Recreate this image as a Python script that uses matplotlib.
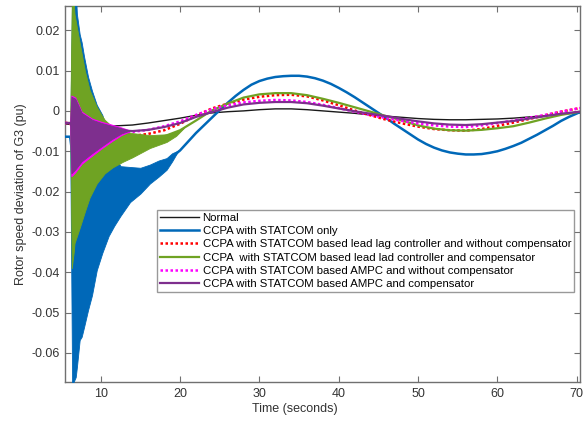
import matplotlib
matplotlib.use("Agg")
import matplotlib.pyplot as plt
import numpy as np

plt.rcParams['font.family'] = ['Liberation Sans', 'DejaVu Sans']

# ---------------- data ----------------
t_slow = [5.5, 6.15, 7, 8, 9, 10, 11, 12, 13,
          14, 16, 18, 20, 22, 24, 26, 28, 30, 32, 34, 36, 38, 40, 42, 44,
          46, 48, 50, 52, 54, 56, 58, 60, 62, 64, 66, 68, 70.4]

normal = [-0.0033, -0.0033, -0.0034, -0.0036, -0.0037, -0.0038, -0.0038, -0.0037, -0.0036,
          -0.0035, -0.0030, -0.0024, -0.0018, -0.0011, -0.0005, -0.0002, 0.0000, 0.0003,
          0.0005, 0.0005, 0.0003, 0.0000, -0.0003, -0.0006, -0.0010, -0.0013, -0.0016,
          -0.0019, -0.0021, -0.0022, -0.0022, -0.0021, -0.0020, -0.0018, -0.0015, -0.0012,
          -0.0008, -0.0005]

t_blue = [5.5, 6.15, 7, 8, 9, 10, 11, 12, 13,
          14, 16, 18, 20, 22, 24, 25, 26, 27, 28, 29, 30, 31, 32, 33, 34, 35, 36, 37, 38,
          39, 40, 41, 42, 43, 44, 45, 46, 47, 48, 49, 50, 51, 52, 53, 54, 55, 56, 57, 58,
          59, 60, 61, 62, 63, 64, 65, 66, 67, 68, 69, 70.4]
statcom_only = [-0.0064, -0.0064, -0.020, -0.022, -0.022, -0.022, -0.021, -0.020, -0.019,
                -0.0180, -0.0155, -0.0130, -0.0098, -0.0055, -0.0017, 0.0002, 0.0020, 0.0037,
                0.0052, 0.0065, 0.0074, 0.0080, 0.0084, 0.0086, 0.0087, 0.0087, 0.0085,
                0.0081, 0.0075, 0.0067, 0.0057, 0.0046, 0.0034, 0.0021, 0.0008, -0.0005,
                -0.0018, -0.0032, -0.0045, -0.0058, -0.0071, -0.0082, -0.0091, -0.0098,
                -0.0103, -0.0106, -0.0108, -0.0108, -0.0107, -0.0104, -0.0100, -0.0094,
                -0.0087, -0.0079, -0.0069, -0.0059, -0.0048, -0.0037, -0.0025, -0.0015,
                -0.0003]

leadlag_nocomp = [-0.0030, -0.0030, -0.0070, -0.0075, -0.0075, -0.0070, -0.0068, -0.0066, -0.0064,
                  -0.0062, -0.0057, -0.0048, -0.0032, -0.0012, 0.0006, 0.0018, 0.0028, 0.0035,
                  0.0039, 0.0040, 0.0036, 0.0026, 0.0014, 0.0001, -0.0011, -0.0022, -0.0031,
                  -0.0039, -0.0045, -0.0048, -0.0049, -0.0045, -0.0037, -0.0029, -0.0020,
                  -0.0011, -0.0002, 0.0007]

leadlag_comp = [-0.0030, -0.0030, -0.0060, -0.0075, -0.0085, -0.0090, -0.0090, -0.0088, -0.0085,
                -0.0080, -0.0073, -0.0063, -0.0048, -0.0024, 0.0001, 0.0018, 0.0033, 0.0041,
                0.0044, 0.0044, 0.0039, 0.0030, 0.0020, 0.0009, -0.0002, -0.0013, -0.0024,
                -0.0036, -0.0044, -0.0048, -0.0049, -0.0047, -0.0043, -0.0038, -0.0029,
                -0.0019, -0.0010, -0.0002]

ampc_nocomp = [-0.0030, -0.0030, -0.0060, -0.0062, -0.0063, -0.0060, -0.0057, -0.0054, -0.0052,
               -0.0052, -0.0047, -0.0038, -0.0026, -0.0010, 0.0004, 0.0014, 0.0021, 0.0025,
               0.0027, 0.0026, 0.0022, 0.0015, 0.0007, -0.0002, -0.0010, -0.0018, -0.0025,
               -0.0031, -0.0036, -0.0039, -0.0040, -0.0036, -0.0030, -0.0024, -0.0017,
               -0.0010, -0.0002, 0.0007]

ampc_comp = [-0.0030, -0.0030, -0.0060, -0.0062, -0.0063, -0.0060, -0.0055, -0.0050, -0.0049,
             -0.0050, -0.0047, -0.0040, -0.0030, -0.0015, -0.0003, 0.0008, 0.0016, 0.0020,
             0.0022, 0.0022, 0.0019, 0.0013, 0.0006, -0.0001, -0.0007, -0.0013, -0.0020,
             -0.0026, -0.0031, -0.0034, -0.0035, -0.0033, -0.0029, -0.0025, -0.0019,
             -0.0013, -0.0007, -0.0002]

# envelopes of the fast post-fault oscillations
t_blue_band = [6.15, 6.4, 6.85, 7.0, 7.35, 7.6, 7.9, 8.4, 8.9, 9.5, 10.2, 11.0, 11.7,
               12.5, 13.7, 15.0, 16.2, 17.3, 18.3, 19.0, 19.8]
blue_upper = [-0.0064, 0.030, 0.030, 0.024, 0.019, 0.017, 0.0135, 0.0085, 0.005, 0.0015,
              -0.001, -0.006, -0.011, -0.0137, -0.0139, -0.0141, -0.0133, -0.0123, -0.0117,
              -0.0105, -0.0098]
blue_lower = [-0.0064, -0.068, -0.066, -0.0635, -0.0568, -0.056, -0.0536, -0.0494, -0.0457,
              -0.0395, -0.0352, -0.031, -0.0285, -0.026, -0.0226, -0.0205, -0.018, -0.0163,
              -0.0146, -0.0125, -0.0098]

t_green_band = [6.15, 6.35, 6.6, 6.7, 7.35, 8.0, 8.6, 9.5, 10.1, 10.5, 11.5, 12.8, 14.0,
                16.2, 18.3, 19.5, 20.5]
green_upper = [-0.003, 0.026, 0.027, 0.024, 0.0169, 0.010, 0.0052, 0.001, -0.001, -0.0022,
               -0.004, -0.005, -0.0055, -0.006, -0.0058, -0.0052, -0.0042]
green_lower = [-0.003, -0.039, -0.035, -0.0328, -0.029, -0.025, -0.0215, -0.018, -0.0165,
               -0.0155, -0.014, -0.0126, -0.0115, -0.0092, -0.0077, -0.0062, -0.0042]

t_ampc_band = [6.15, 6.3, 6.8, 7.6, 8.9, 10.1, 11.4, 12.6, 13.5]
magenta_upper = [-0.003, 0.0038, 0.0033, -0.0002, -0.0019, -0.0027, -0.0034, -0.0041, -0.0047]
magenta_lower = [-0.003, -0.0162, -0.0152, -0.0131, -0.0111, -0.0093, -0.0075, -0.0060, -0.0052]
purple_upper = [-0.003, 0.0035, 0.003, -0.0005, -0.0022, -0.003, -0.0037, -0.0043, -0.0048]
purple_lower = [-0.003, -0.0155, -0.0145, -0.0125, -0.0105, -0.0088, -0.0070, -0.0056, -0.0050]

labels = ["Normal",
          "CCPA with STATCOM only",
          "CCPA with STATCOM based lead lag controller and without compensator",
          "CCPA  with STATCOM based lead lad controller and compensator",
          "CCPA with STATCOM based AMPC and without compensator",
          "CCPA with STATCOM based AMPC and compensator"]

x_ticks = [10, 20, 30, 40, 50, 60, 70]
y_ticks = [-0.06, -0.05, -0.04, -0.03, -0.02, -0.01, 0, 0.01, 0.02]
y_ticklabels = ["-0.06", "-0.05", "-0.04", "-0.03", "-0.02", "-0.01", "0", "0.01", "0.02"]

# ---------------- styles ----------------
c_black = '#1a1a1a'
c_blue = '#0068B8'
c_red = '#FF0000'
c_green = '#6FA323'
c_magenta = '#FF00FF'
c_purple = '#7E2F8E'

fig = plt.figure(figsize=(5.84, 4.23), dpi=100)
ax = fig.add_axes([65/584, 41/423, 515/584, 376/423])

h0, = ax.plot(t_slow, normal, color=c_black, lw=1.0, zorder=2)
ax.fill_between(t_blue_band, blue_lower, blue_upper, color=c_blue, lw=0.6, zorder=3)
h1, = ax.plot(t_blue, statcom_only, color=c_blue, lw=1.8, zorder=3)
h2, = ax.plot(t_slow, leadlag_nocomp, color=c_red, lw=1.8, ls=(0, (1, 1)), zorder=4)
ax.fill_between(t_green_band, green_lower, green_upper, color=c_green, lw=0.6, zorder=5)
h3, = ax.plot(t_slow, leadlag_comp, color=c_green, lw=1.6, zorder=5)
ax.fill_between(t_ampc_band, magenta_lower, magenta_upper, color=c_magenta, lw=0.6, zorder=6)
h4, = ax.plot(t_slow, ampc_nocomp, color=c_magenta, lw=1.8, ls=(0, (1, 1)), zorder=6)
ax.fill_between(t_ampc_band, purple_lower, purple_upper, color=c_purple, lw=0.6, zorder=7)
h5, = ax.plot(t_slow, ampc_comp, color=c_purple, lw=1.6, zorder=7)

ax.set_xlim(5.5, 70.4)
ax.set_ylim(-0.0672, 0.026)
ax.set_xticks(x_ticks)
ax.set_yticks(y_ticks)
ax.set_yticklabels(y_ticklabels)

axis_col = '#707070'
for s in ax.spines.values():
    s.set_color(axis_col)
    s.set_linewidth(1.0)
ax.tick_params(direction='in', length=4, width=0.8, color=axis_col,
               labelsize=9, labelcolor='#333333', top=True, right=True, pad=4)

ax.set_xlabel("Time (seconds)", fontsize=9, color='#333333', labelpad=3)
ax.xaxis.set_label_coords(0.447, -0.055)
ax.set_ylabel("Rotor speed deviation of G3 (pu)", fontsize=9, color='#333333', labelpad=3)

leg = ax.legend([h0, h1, h2, h3, h4, h5], labels, loc='upper left',
                bbox_to_anchor=(0.1786, 0.457), fontsize=8.2, frameon=True,
                fancybox=False, borderpad=0.25, labelspacing=0.28, handlelength=3.4,
                handletextpad=0.35, borderaxespad=0)
leg.get_frame().set_edgecolor('#808080')
leg.get_frame().set_linewidth(1.0)
leg.set_zorder(10)

fig.savefig("out.png", dpi=100)
